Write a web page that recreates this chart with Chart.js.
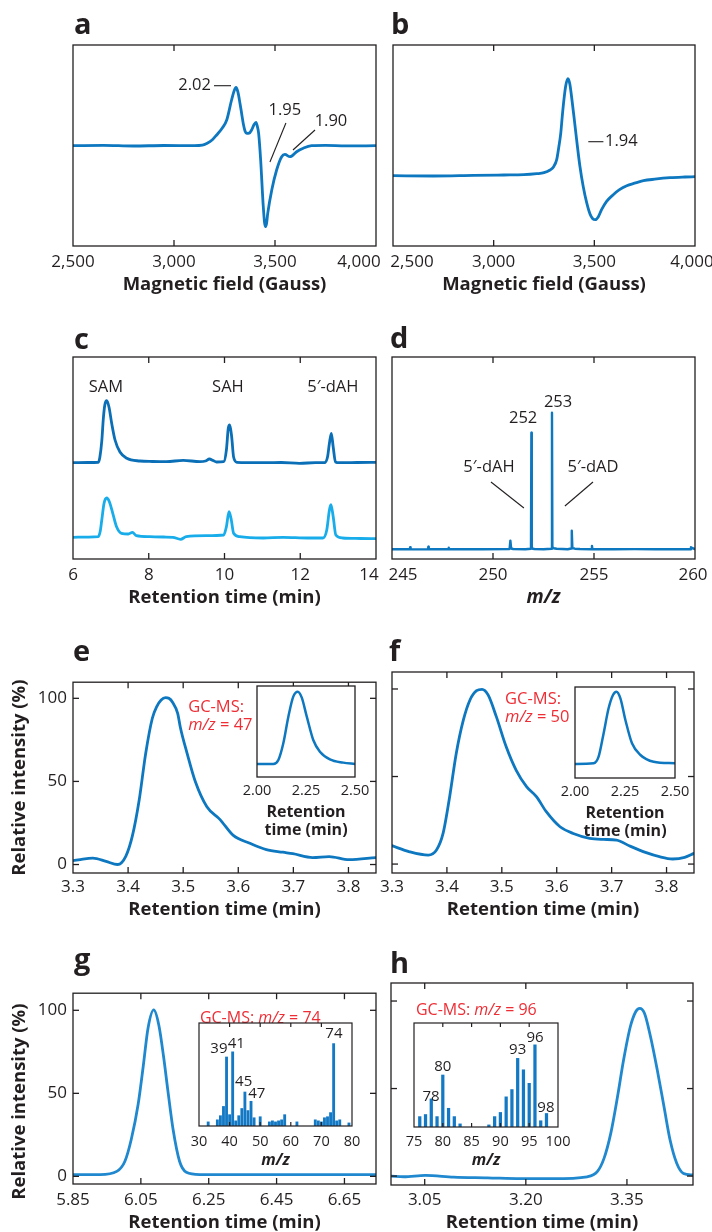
<!DOCTYPE html>
<html><head><meta charset="utf-8">
<script src="https://cdn.jsdelivr.net/npm/chart.js@4.4.1/dist/chart.umd.min.js"></script>
<style>
html,body{margin:0;padding:0;background:#fff;}
#wrap{position:relative;width:712px;height:1232px;overflow:hidden;background:#fff;}
#wrap canvas{position:absolute;}
.plbl{position:absolute;font-family:'Open Sans','Noto Sans',sans-serif;font-weight:700;color:#231f20;font-size:29px;line-height:29px;}
</style></head><body><div id="wrap"></div>
<script>
// ---------- DATA ----------
// a: EPR spectrum
const aField  = [2500,2650,2800,2950,3100,3140,3162,3190,3211,3240,3261,3285,3298,3307,3316,3327,3335,3343,3352,3360,3372,3384,3396,3406,3413,3419,3429,3442,3452,3458,3464,3484,3508,3533,3549,3574,3607,3640,3681,3750,3850,4000];
const aSignal = [0,0.3,-0.3,0.2,0,0.5,2.3,6,10.7,18,25.7,45.7,55,58.3,54,42,32,22,14.5,12.3,12.5,15.7,21,23.3,19,12.3,-14.3,-61,-81,-78,-67.7,-44.3,-24.3,-11,-8.7,-11,-6,-2.5,0,0.3,-0.2,0];
// b: EPR spectrum
const bField  = [2500,2700,2900,3050,3150,3214,3250,3280,3298,3313,3323,3333,3341,3349,3358,3369,3378,3387,3400,3412,3428,3445,3462,3478,3492,3505,3520,3536,3560,3594,3625,3661,3700,3744,3800,3876,3950,4000];
const bSignal = [-30,-30.3,-29.7,-29.3,-29,-28,-27,-24.3,-21,-14,-2,12,30,46,60,67,62,49,27,6,-20,-41,-57,-68,-73,-74,-71,-64,-56,-49,-44,-40,-37.5,-35,-33.5,-32,-31.3,-31];
// c: HPLC traces
const cTime1 = [6.0,6.4,6.67,6.71,6.76,6.8,6.84,6.89,6.95,7.02,7.11,7.24,7.42,7.77,8.1,8.47,8.91,9.35,9.5,9.6,9.7,9.79,9.98,10.05,10.1,10.14,10.19,10.24,10.33,10.6,11.1,11.5,11.98,12.4,12.64,12.72,12.77,12.82,12.87,12.93,13.03,13.5,14.0];
const cSig1  = [96.3,96.5,96.7,102,118,140,154,158.3,152,136,119,107,100.7,98,97.5,97.3,98.7,97.3,98,100,98.5,97,97.3,109,130.7,134,122,102,96.7,96.3,96.3,96.5,95.7,96.3,96.3,102,115.7,125.7,112,97,96.3,96.5,96.7];
const cTime2 = [6.0,6.4,6.67,6.72,6.76,6.82,6.89,6.96,7.05,7.15,7.28,7.46,7.57,7.67,8.03,8.4,8.64,8.84,8.99,9.52,9.98,10.05,10.12,10.18,10.24,10.4,11.02,11.55,12.2,12.6,12.7,12.77,12.81,12.87,12.94,13.12,13.6,14.0];
const cSig2  = [21.7,21.9,22.3,28,39,55.7,61,57.3,45.7,32.3,25.7,25,26.7,23.3,22.3,22,21.7,19.7,22.3,23.3,24,32.3,47.3,39,25.7,22.3,21,21.7,21,21,29,49,54.3,42.3,24,21,20.5,20.3];
// d: mass spectrum
const dMz  = [245,245.88,245.9,245.92,246.78,246.8,246.82,247.78,247.8,247.82,248.5,249.5,250.82,250.86,250.9,251.0,251.6,251.88,251.9,251.92,252.05,252.5,252.9,252.92,252.94,253.0,253.15,253.7,253.87,253.9,253.93,254.05,254.3,254.88,254.9,254.92,256,257,258,259.78,259.8,259.85,260];
const dInt = [9.8,9.8,11.7,9.8,9.6,12.3,9.8,9.7,11.3,9.7,9.9,9.7,10,18.3,10.5,10,9.8,10.3,126.3,10.5,10,9.8,10.3,146.3,12,10.8,10.2,9.8,10.5,28.3,11,10.3,10,9.8,13,9.8,9.7,9.9,9.7,9.8,11.7,11,10];
// e: GC trace + inset
const eTime = [3.3,3.318,3.336,3.36,3.381,3.396,3.408,3.42,3.432,3.444,3.452,3.46,3.468,3.474,3.481,3.49,3.495,3.507,3.522,3.543,3.567,3.591,3.621,3.651,3.681,3.699,3.735,3.765,3.801,3.85];
const eInt  = [2.3,3.3,3.8,1.9,0,5.1,17.5,38.5,67,88,95,99,100.4,100,97.5,91,82.3,67,49.9,34.7,27,17.5,12.8,9,7.4,6.5,4.2,4.8,2.9,4.2];
const eiTime = [2.0,2.083,2.109,2.134,2.16,2.185,2.208,2.228,2.254,2.287,2.321,2.372,2.44,2.5];
const eiInt  = [14.3,14.3,18.7,36.8,66.3,88.3,93.8,87.5,66.3,40.7,27.8,19.4,15.8,14.3];
// f: GC trace + inset
const fTime = [3.3,3.332,3.366,3.381,3.393,3.405,3.417,3.43,3.442,3.454,3.464,3.475,3.49,3.508,3.526,3.545,3.563,3.581,3.606,3.63,3.66,3.685,3.709,3.733,3.763,3.787,3.811,3.833,3.85];
const fInt  = [10.5,7,5.1,8,17.5,38.5,63.2,82.3,93.7,99,99.8,96.6,84.2,67,53.7,44.2,38.5,29.9,21.3,17.5,14.7,14.1,13.7,10.3,6.5,4.2,2.9,3.8,6.1];
const fiTime = [2.0,2.093,2.118,2.143,2.168,2.19,2.207,2.227,2.252,2.285,2.327,2.393,2.5];
const fiInt  = [15.4,16.1,23.4,49,76.6,91.2,94.8,87.5,63.7,38.1,25.3,17.9,16.1];
// g: GC trace + mass spectrum inset
const gTime = [5.85,5.93,5.979,6.003,6.022,6.042,6.057,6.071,6.088,6.103,6.117,6.13,6.145,6.164,6.184,6.223,6.42,6.743];
const gInt  = [1.1,1.1,3,9.1,22.5,43.4,66.3,89.1,100.2,91,72,51,28.2,9.1,2.5,1.1,1.1,1];
const gMz = [33,36,37,38,39,40,41,42,43,44,45,46,47,48,50,53,54,55,56,57,58,62,68,69,70,71,72,73,74,75,76,79];
const gAb = [4,6,10,19,67,11,72,5,10,17,33,15,24,8,9,4,5,4,5,6,11,4,6,5,4,8,9,13,80,5,6,3];
// h: GC trace + mass spectrum inset
const hTime = [3.0,3.019,3.051,3.093,3.143,3.192,3.241,3.291,3.306,3.316,3.326,3.336,3.345,3.355,3.363,3.369,3.376,3.385,3.395,3.405,3.414,3.424,3.434,3.448];
const hInt  = [0,-0.4,0.4,-0.6,-1,-1.5,-1.5,-0.4,2.5,10.1,24.4,45.3,66.3,85.3,93.9,95.8,93,79.6,60.6,39.6,20.6,7.2,1.5,0.6];
const hMz = [76,77,78,79,80,81,82,83,88,89,90,91,92,93,94,95,96,97,98];
const hAb = [10,12,27,10,50,18,10,3,2,10,14,29,36,66,55,42,79,6,13];
// tick labels
const aTicks = [2500,3000,3500,4000];
const cTicks = [6,8,10,12,14];
const dTicks = [245,250,255,260];
const efTicks = [3.3,3.4,3.5,3.6,3.7,3.8];
const gTicks = [5.85,6.05,6.25,6.45,6.65];
const hTicks = [3.05,3.20,3.35];
const insetRtTicks = [2.00,2.25,2.50];
const gInsetTicks = [30,40,50,60,70,80];
const hInsetTicks = [75,80,85,90,95,100];
const relTicks = [0,50,100];

// ---------- RENDERING ----------
const FONT = "'Open Sans','Noto Sans','DejaVu Sans',sans-serif";
const INK = '#231f20';
const BLUE = '#0d77c0';
const RED = '#ee2d34';
const wrap = document.getElementById('wrap');
function zip(xs, ys){ return xs.map((x,i)=>({x:x, y:ys[i]})); }

function drawSegs(ctx, segs, x, y, align, size, color){
  const fonts = segs.map(s => (s[1]?'italic ':'') + 'normal ' + size + 'px ' + FONT);
  let total = 0;
  segs.forEach((s,i)=>{ ctx.font = fonts[i]; total += ctx.measureText(s[0]).width; });
  let cx = align==='left' ? x : (align==='right' ? x-total : x-total/2);
  ctx.textAlign='left'; ctx.textBaseline='middle'; ctx.fillStyle=color;
  segs.forEach((s,i)=>{ ctx.font=fonts[i]; ctx.fillText(s[0], cx, y); cx += ctx.measureText(s[0]).width; });
}

function deco(p){
  return {
    id:'deco',
    beforeDraw(chart){
      const sh = p.x.shift;
      if (!sh) return;
      const items = chart.scales.x.getLabelItems();
      sh.forEach(([i,dx])=>{
        const it = items[i < 0 ? items.length + i : i];
        if (it && !it._shifted) { it.options.translation = [it.options.translation[0] + dx, it.options.translation[1]]; it._shifted = true; }
      });
    },
    beforeDatasetsDraw(chart){
      if (!p.white) return;
      const a = chart.chartArea, ctx = chart.ctx;
      ctx.save(); ctx.fillStyle='#fff'; ctx.fillRect(a.left,a.top,a.right-a.left,a.bottom-a.top); ctx.restore();
    },
    afterDatasetsDraw(chart){
      const ctx = chart.ctx, a = chart.chartArea, sx = chart.scales.x, sy = chart.scales.y;
      ctx.save();
      ctx.strokeStyle = INK; ctx.lineWidth = p.frameW || 1.3;
      ctx.strokeRect(a.left, a.top, a.right-a.left, a.bottom-a.top);
      const L = p.tickLen || 6;
      const seg = (x1,y1,x2,y2)=>{ ctx.beginPath(); ctx.moveTo(x1,y1); ctx.lineTo(x2,y2); ctx.stroke(); };
      (p.xMarks||[]).forEach(v=>{ const x = sx.getPixelForValue(v); seg(x,a.top,x,a.top+L); seg(x,a.bottom,x,a.bottom-L); });
      (p.yMarks||[]).forEach(v=>{ const y = sy.getPixelForValue(v); seg(a.left,y,a.left+L,y); seg(a.right,y,a.right-L,y); });
      ctx.lineWidth = 1.1;
      (p.leaders||[]).forEach(l=>{ seg(sx.getPixelForValue(l[0]), sy.getPixelForValue(l[1]), sx.getPixelForValue(l[2]), sy.getPixelForValue(l[3])); });
      (p.notes||[]).forEach(n=>{ drawSegs(ctx, n.segs, sx.getPixelForValue(n.x), sy.getPixelForValue(n.y), n.align||'center', n.size||16.5, n.color||INK); });
      ctx.restore();
    }
  };
}

function panel(p){
  const b = p.box;
  const tf = p.x.tickSize, tlh = tf*1.2;
  const ttf = p.x.titleSize, tLH = p.x.titleLH || 1.2, ttlh = ttf*tLH;
  const titles = Array.isArray(p.x.title) ? p.x.title : [p.x.title];
  const n = titles.length;
  const T = b.y0 - 6;
  const bottom = p.x.titleY + ttlh*(n-1) + ttlh/2 + 4;
  const H = Math.ceil(bottom - T);
  const L = p.L, W = p.R - p.L;
  const showY = !!p.y.labels;
  const yW = showY ? b.x0 - L : 0;
  const xH = T + H - b.y1;
  const c = document.createElement('canvas');
  c.width = W; c.height = H;
  c.style.left = L+'px'; c.style.top = T+'px'; c.style.width = W+'px'; c.style.height = H+'px';
  wrap.appendChild(c);
  const xTickPad = p.x.labelY - b.y1 - tlh/2;
  const xTitlePad = (T + H) - p.x.titleY - ttlh/2 - ttlh*(n-1);
  const yScale = showY ? {
      type:'linear', min:p.y.min, max:p.y.max, position:'left',
      afterBuildTicks: s=>{ s.ticks = p.y.labels.map(v=>({value:v})); },
      afterFit: s=>{ s.width = yW; },
      grid:{display:false, drawTicks:false}, border:{display:false},
      ticks:{padding: b.x0 - p.y.labelRight, color:INK, font:{family:FONT, size:tf, lineHeight:1.2}},
      title: p.y.title ? {display:true, text:p.y.title, color:INK, font:{family:FONT, size:ttf, weight:'bold', lineHeight:1.2}, padding:{top: p.y.titleX - L - ttf*0.6, bottom:0}} : {display:false}
    } : {type:'linear', min:p.y.min, max:p.y.max, display:false};
  new Chart(c, {
    type: p.type || 'line',
    data: { datasets: p.datasets },
    options: {
      responsive:false, maintainAspectRatio:false, animation:false, devicePixelRatio:1,
      events: [],
      layout:{ autoPadding:false, padding:{ left: b.x0 - L - yW, top: b.y0 - T, right: L + W - b.x1, bottom: 0 } },
      plugins:{ legend:{display:false}, tooltip:{enabled:false}, title:{display:false} },
      elements:{ point:{radius:0}, line:{borderCapStyle:'round', borderJoinStyle:'round'} },
      scales:{
        x:{ type:'linear', min:p.x.min, max:p.x.max, position:'bottom', offset:false,
          afterBuildTicks: s=>{ s.ticks = p.x.ticks.map(v=>({value:v})); },
          afterFit: s=>{ s.height = xH; },
          grid:{display:false, drawTicks:false}, border:{display:false},
          ticks:{ padding:xTickPad, color:INK, maxRotation:0, autoSkip:false, font:{family:FONT, size:tf, lineHeight:1.2}, callback: p.x.fmt },
          title:{ display:true, text: n>1 ? titles : titles[0], color:INK,
            font:{family:FONT, size:ttf, weight:'bold', style: p.x.italic?'italic':'normal', lineHeight:tLH},
            padding:{top:0, bottom:xTitlePad} }
        },
        y: yScale
      }
    },
    plugins:[ deco(p) ]
  });
}

function lineDS(xs, ys, color, w, mode){
  const ds = { data: zip(xs, ys), borderColor: color, borderWidth: w || 2.8, fill:false, pointRadius:0, borderJoinStyle:'round' };
  if (mode === 'sharp') { ds.tension = 0; } else { ds.cubicInterpolationMode = 'monotone'; }
  return ds;
}
const fmtComma = v => Number(v).toLocaleString('en-US');
const fmt1 = v => Number(v).toFixed(1);
const fmt2 = v => Number(v).toFixed(2);
const fmt0 = v => String(v);
const MT = 18.5, TK = 17;

// a
panel({ L:0, R:410, box:{x0:73,y0:45,x1:376,y1:246},
  x:{min:2500,max:4000,ticks:aTicks,fmt:fmtComma,tickSize:TK,titleSize:MT,labelY:262,titleY:285,title:'Magnetic field (Gauss)', shift:[[-1,-17]]},
  y:{min:-100.3,max:100.7},
  datasets:[ lineDS(aField, aSignal, BLUE, 2.8) ],
  xMarks:[3000,3500],
  notes:[ {segs:[['2.02']], x:3183, y:60, align:'right'}, {segs:[['1.95']], x:3549, y:35.7}, {segs:[['1.90']], x:3777, y:24.7} ],
  leaders:[ [3198,60,3282,60], [3554,22.7,3475,-16.3], [3698,15.7,3589,-4.3] ]
});
// b
panel({ L:330, R:740, box:{x0:393,y0:45,x1:695,y1:246},
  x:{min:2500,max:4000,ticks:aTicks,fmt:fmtComma,tickSize:TK,titleSize:MT,labelY:262,titleY:285,title:'Magnetic field (Gauss)', shift:[[0,19],[-1,-3]]},
  y:{min:-100.3,max:100.7},
  datasets:[ lineDS(bField, bSignal, BLUE, 2.8) ],
  xMarks:[3000,3500],
  notes:[ {segs:[['1.94']], x:3553, y:4, align:'left'} ],
  leaders:[ [3470,4,3545,4] ]
});
// c
panel({ L:0, R:410, box:{x0:73,y0:357,x1:376,y1:559},
  x:{min:6,max:14,ticks:cTicks,fmt:fmt0,tickSize:TK,titleSize:MT,labelY:575,titleY:598,title:'Retention time (min)', shift:[[-1,-7]]},
  y:{min:0,max:202},
  datasets:[ lineDS(cTime1, cSig1, '#0a6fb6', 2.8), lineDS(cTime2, cSig2, '#18adea', 2.8) ],
  xMarks:[8,10,12],
  notes:[ {segs:[['SAM']], x:6.87, y:172}, {segs:[['SAH']], x:10.09, y:172}, {segs:[['5′-dAH']], x:12.86, y:172} ]
});
// d
panel({ L:330, R:740, box:{x0:392,y0:357,x1:695,y1:559},
  x:{min:245,max:260,ticks:dTicks,fmt:fmt0,tickSize:TK,titleSize:19,labelY:575,titleY:598,title:'m/z',italic:true, shift:[[0,11],[-1,-2]]},
  y:{min:0,max:202},
  datasets:[ lineDS(dMz, dInt, BLUE, 2.4, 'sharp') ],
  xMarks:[250,255],
  notes:[ {segs:[['252']], x:251.49, y:141}, {segs:[['253']], x:253.22, y:157}, {segs:[['5′-dAH']], x:249.8, y:92}, {segs:[['5′-dAD']], x:254.95, y:92} ],
  leaders:[ [249.9,77,251.53,51], [254.95,77,253.56,53] ]
});
// e
panel({ L:0, R:410, box:{x0:73,y0:672,x1:376,y1:873},
  x:{min:3.3,max:3.85,ticks:efTicks,fmt:fmt1,tickSize:TK,titleSize:MT,labelY:887,titleY:910,title:'Retention time (min)'},
  y:{min:-5.1,max:109.7,labels:relTicks,labelRight:67,title:'Relative intensity (%)',titleX:20},
  datasets:[ lineDS(eTime, eInt, BLUE, 2.8) ],
  xMarks:[3.4,3.5,3.6,3.7,3.8], yMarks:[0,50,100],
  notes:[ {segs:[['GC-MS:']], x:3.509, y:94.3, align:'left', color:RED}, {segs:[['m/z',true],[' = 47']], x:3.509, y:84, align:'left', color:RED} ]
});
panel({ L:227, R:385, box:{x0:257,y0:686,x1:355,y1:777}, white:true,
  x:{min:2.0,max:2.5,ticks:insetRtTicks,fmt:fmt2,tickSize:14.5,titleSize:16,titleLH:1.125,labelY:791,titleY:812,title:['Retention','time (min)']},
  y:{min:0,max:100},
  datasets:[ lineDS(eiTime, eiInt, BLUE, 2.5) ]
});
// f
panel({ L:330, R:740, box:{x0:392,y0:672,x1:694,y1:873},
  x:{min:3.3,max:3.85,ticks:efTicks,fmt:fmt1,tickSize:TK,titleSize:MT,labelY:887,titleY:910,title:'Retention time (min)'},
  y:{min:-5.1,max:109.7},
  datasets:[ lineDS(fTime, fInt, BLUE, 2.8) ],
  xMarks:[3.4,3.5,3.6,3.7,3.8], yMarks:[0,50,100],
  notes:[ {segs:[['GC-MS:']], x:3.506, y:94.3, align:'left', color:RED}, {segs:[['m/z',true],[' = 50']], x:3.506, y:84, align:'left', color:RED} ]
});
panel({ L:545, R:705, box:{x0:575,y0:687,x1:675,y1:778}, white:true,
  x:{min:2.0,max:2.5,ticks:insetRtTicks,fmt:fmt2,tickSize:14.5,titleSize:16,titleLH:1.125,labelY:792,titleY:813,title:['Retention','time (min)']},
  y:{min:0,max:100},
  datasets:[ lineDS(fiTime, fiInt, BLUE, 2.5) ]
});
// g
panel({ L:0, R:410, box:{x0:73,y0:983,x1:376,y1:1184},
  x:{min:5.85,max:6.743,ticks:gTicks,fmt:fmt2,tickSize:TK,titleSize:MT,labelY:1200,titleY:1223,title:'Retention time (min)'},
  y:{min:-4.6,max:110.3,labels:relTicks,labelRight:67,title:'Relative intensity (%)\u2007\u2007 ',titleX:20},
  datasets:[ lineDS(gTime, gInt, '#1f88cf', 2.8) ],
  xMarks:[6.05,6.25,6.45,6.65], yMarks:[0,50,100],
  notes:[ {segs:[['GC-MS: '],['m/z',true],[' = 74']], x:6.224, y:94.9, align:'left', color:RED, size:16} ]
});
panel({ L:169, R:382, box:{x0:199,y0:1023,x1:352,y1:1126}, white:true,
  x:{min:30,max:80,ticks:gInsetTicks,fmt:fmt0,tickSize:14.5,titleSize:16,labelY:1142,titleY:1160,title:'m/z',italic:true},
  y:{min:0,max:100},
  type:'bar',
  datasets:[ { data: zip(gMz, gAb), backgroundColor:'#1479c4', borderWidth:0, barThickness:2.2, grouped:false } ],
  xMarks:[40,50,60,70], tickLen:4, frameW:1.2,
  notes:[ {segs:[['39']], x:36.5, y:74.8, size:15}, {segs:[['41']], x:42.2, y:80.3, size:15}, {segs:[['45']], x:44.6, y:43, size:15}, {segs:[['47']], x:48.9, y:31.7, size:15}, {segs:[['74']], x:74.1, y:90, size:15} ]
});
// h
panel({ L:330, R:740, box:{x0:391,y0:983,x1:693,y1:1185},
  x:{min:3.0,max:3.448,ticks:hTicks,fmt:fmt2,tickSize:TK,titleSize:MT,labelY:1200,titleY:1223,title:'Retention time (min)'},
  y:{min:-5.1,max:110.3},
  datasets:[ lineDS(hTime, hInt, '#1f88cf', 2.8) ],
  xMarks:[3.05,3.20,3.35], yMarks:[0,50,100],
  notes:[ {segs:[['GC-MS: '],['m/z',true],[' = 96']], x:3.037, y:94.9, align:'left', color:RED, size:16} ]
});
panel({ L:384, R:588, box:{x0:414,y0:1023,x1:558,y1:1127}, white:true,
  x:{min:75,max:100,ticks:hInsetTicks,fmt:fmt0,tickSize:14.5,titleSize:16,labelY:1142,titleY:1160,title:'m/z',italic:true},
  y:{min:0,max:100},
  type:'bar',
  datasets:[ { data: zip(hMz, hAb), backgroundColor:'#1479c4', borderWidth:0, barThickness:2.6, grouped:false } ],
  xMarks:[80,85,90,95], tickLen:4, frameW:1.2,
  notes:[ {segs:[['78']], x:77.95, y:29, size:15}, {segs:[['80']], x:80, y:58, size:15}, {segs:[['93']], x:93, y:74, size:15}, {segs:[['96']], x:96, y:86.2, size:15}, {segs:[['98']], x:97.9, y:18.1, size:15} ]
});

// panel letters (baseline positions)
[['a',74,34],['b',391,34],['c',74,349],['d',390,348],['e',73,661],['f',389,661],['g',74,969],['h',390,973]].forEach(l=>{
  const d = document.createElement('div');
  d.className = 'plbl'; d.textContent = l[0];
  d.style.left = l[1] + 'px'; d.style.top = (l[2] - 29*0.888) + 'px';
  wrap.appendChild(d);
});
</script></body></html>
